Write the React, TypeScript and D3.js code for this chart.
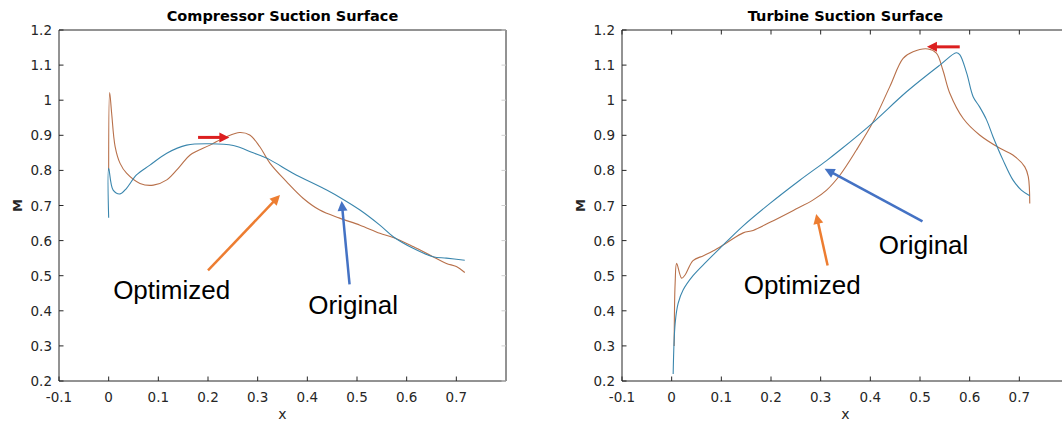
import React from "react";
import * as d3 from "d3";

// ---------- data ----------
const xTicks = [-0.1, 0, 0.1, 0.2, 0.3, 0.4, 0.5, 0.6, 0.7];
const xTickLabels = ["-0.1", "0", "0.1", "0.2", "0.3", "0.4", "0.5", "0.6", "0.7"];
const yTicks = [0.2, 0.3, 0.4, 0.5, 0.6, 0.7, 0.8, 0.9, 1.0, 1.1, 1.2];
const yTickLabels = ["0.2", "0.3", "0.4", "0.5", "0.6", "0.7", "0.8", "0.9", "1", "1.1", "1.2"];

const compOrigX = [0, 0, 0.009, 0.023, 0.036, 0.056, 0.083, 0.117, 0.157, 0.204, 0.251, 0.291, 0.325, 0.371, 0.439, 0.469, 0.506, 0.546, 0.573, 0.613, 0.653, 0.68, 0.717];
const compOrigM = [0.665, 0.806, 0.744, 0.733, 0.749, 0.787, 0.815, 0.849, 0.872, 0.876, 0.871, 0.85, 0.83, 0.792, 0.744, 0.72, 0.687, 0.644, 0.611, 0.578, 0.554, 0.55, 0.544];

const compOptX = [0, 0.002, 0.006, 0.013, 0.023, 0.036, 0.063, 0.09, 0.117, 0.143, 0.164, 0.204, 0.237, 0.264, 0.284, 0.304, 0.325, 0.358, 0.392, 0.425, 0.465, 0.506, 0.546, 0.573, 0.613, 0.653, 0.68, 0.7, 0.717];
const compOptM = [0.8, 1.022, 0.963, 0.868, 0.82, 0.792, 0.763, 0.758, 0.773, 0.811, 0.844, 0.872, 0.896, 0.908, 0.901, 0.868, 0.82, 0.768, 0.72, 0.687, 0.664, 0.644, 0.621, 0.609, 0.583, 0.554, 0.535, 0.526, 0.509];

const turbOrigX = [0.003, 0.007, 0.013, 0.023, 0.043, 0.07, 0.097, 0.144, 0.198, 0.258, 0.312, 0.339, 0.402, 0.473, 0.54, 0.573, 0.58, 0.594, 0.607, 0.62, 0.634, 0.647, 0.667, 0.687, 0.704, 0.721];
const turbOrigM = [0.22, 0.364, 0.421, 0.459, 0.5, 0.54, 0.578, 0.642, 0.706, 0.772, 0.828, 0.858, 0.932, 1.024, 1.1, 1.135, 1.13, 1.077, 1.01, 0.981, 0.944, 0.896, 0.83, 0.773, 0.744, 0.728];

const turbOptX = [0.005, 0.007, 0.01, 0.02, 0.027, 0.043, 0.064, 0.084, 0.111, 0.144, 0.164, 0.198, 0.245, 0.285, 0.312, 0.339, 0.372, 0.406, 0.439, 0.466, 0.486, 0.516, 0.533, 0.546, 0.56, 0.587, 0.62, 0.661, 0.687, 0.711, 0.718, 0.721];
const turbOptM = [0.3, 0.479, 0.535, 0.493, 0.502, 0.543, 0.557, 0.571, 0.594, 0.622, 0.629, 0.652, 0.686, 0.716, 0.744, 0.787, 0.858, 0.939, 1.038, 1.119, 1.138, 1.146, 1.134, 1.086, 1.02, 0.948, 0.901, 0.863, 0.844, 0.81, 0.782, 0.706];

// annotations (data units)
const compArrows = [
  { from: [0.18, 0.894], to: [0.243, 0.894], color: "#dc1f1f", width: 3 },
  { from: [0.2, 0.515], to: [0.345, 0.73], color: "#ed7d31", width: 2.5 },
  { from: [0.485, 0.475], to: [0.469, 0.713], color: "#4472c4", width: 2.5 },
];
const turbArrows = [
  { from: [0.58, 1.152], to: [0.514, 1.152], color: "#dc1f1f", width: 3 },
  { from: [0.505, 0.655], to: [0.308, 0.805], color: "#4472c4", width: 2.5 },
  { from: [0.314, 0.529], to: [0.291, 0.676], color: "#ed7d31", width: 2.5 },
];
const compLabels = [
  { text: "Optimized", x: 0.009, M: 0.434 },
  { text: "Original", x: 0.402, M: 0.39 },
];
const turbLabels = [
  { text: "Original", x: 0.417, M: 0.562 },
  { text: "Optimized", x: 0.145, M: 0.448 },
];

const BLUE = "#3a86ad";
const ORANGE = "#b8704a";
const AXIS = "#262626";

function zip(xs: number[], ys: number[]): [number, number][] {
  return xs.map((x, i) => [x, ys[i]]);
}

function Arrow({ x1, y1, x2, y2, color, width }: any) {
  const dx = x2 - x1, dy = y2 - y1;
  const len = Math.hypot(dx, dy);
  const ux = dx / len, uy = dy / len;
  const hl = 10, hw = 5;
  const bx = x2 - ux * hl, by = y2 - uy * hl;
  const px = -uy, py = ux;
  const pts = [
    [x2, y2],
    [bx + px * hw, by + py * hw],
    [bx - px * hw, by - py * hw],
  ].map((p) => p.join(",")).join(" ");
  return (
    <g>
      <line x1={x1} y1={y1} x2={bx + ux * 1} y2={by + uy * 1} stroke={color} strokeWidth={width} />
      <polygon points={pts} fill={color} />
    </g>
  );
}

function Panel({ x0, title, orig, opt, arrows, labels, showRight, showTopTicks }: any) {
  const width = 447;
  const x = d3.scaleLinear().domain([-0.1, 0.8]).range([x0, x0 + width]);
  const y = d3.scaleLinear().domain([0.2, 1.2]).range([381, 30]);
  const line = d3
    .line<[number, number]>()
    .x((d) => x(d[0]))
    .y((d) => y(d[1]))
    .curve(d3.curveCatmullRom.alpha(0.5));
  const top = y(1.2), bot = y(0.2), left = x(-0.1), right = x(0.8);
  const tk = 4.5;
  const font = "'DejaVu Sans', sans-serif";
  return (
    <g>
      <path d={line(opt) || ""} fill="none" stroke={ORANGE} strokeWidth={1.1} />
      <path d={line(orig) || ""} fill="none" stroke={BLUE} strokeWidth={1.1} />
      <line x1={left} y1={bot} x2={right} y2={bot} stroke={AXIS} strokeWidth={1} />
      <line x1={left} y1={top} x2={right} y2={top} stroke={AXIS} strokeWidth={1} />
      <line x1={left} y1={top} x2={left} y2={bot} stroke={AXIS} strokeWidth={1} />
      {showRight && <line x1={right} y1={top} x2={right} y2={bot} stroke={AXIS} strokeWidth={1} />}
      {xTicks.map((t, i) => (
        <g key={"xt" + i}>
          <line x1={x(t)} x2={x(t)} y1={bot} y2={bot - tk} stroke={AXIS} />
          {showTopTicks && <line x1={x(t)} x2={x(t)} y1={top} y2={top + tk} stroke={AXIS} />}
          <text x={x(t)} y={bot + 21} textAnchor="middle" fontFamily={font} fontSize={13.5} fill={AXIS}>
            {xTickLabels[i]}
          </text>
        </g>
      ))}
      {yTicks.map((t, i) => (
        <g key={"yt" + i}>
          <line x1={left} x2={left + tk} y1={y(t)} y2={y(t)} stroke={AXIS} />
          {showRight && <line x1={right} x2={right - tk} y1={y(t)} y2={y(t)} stroke="#cfcfcf" />}
          <text x={left - 7} y={y(t) + 5} textAnchor="end" fontFamily={font} fontSize={13.5} fill={AXIS}>
            {yTickLabels[i]}
          </text>
        </g>
      ))}
      <text x={(left + right) / 2} y={21} textAnchor="middle" fontFamily={font} fontWeight="bold" fontSize={14.5} fill="#000">
        {title}
      </text>
      <text x={(left + right) / 2} y={419} textAnchor="middle" fontFamily={font} fontSize={14} fill={AXIS}>
        x
      </text>
      <text
        transform={`translate(${left - 37},${(top + bot) / 2}) rotate(-90)`}
        textAnchor="middle"
        fontFamily={font}
        fontWeight="bold"
        fontSize={13}
        fill={AXIS}
      >
        M
      </text>
      {arrows.map((a: any, i: number) => (
        <Arrow key={"a" + i} x1={x(a.from[0])} y1={y(a.from[1])} x2={x(a.to[0])} y2={y(a.to[1])} color={a.color} width={a.width} />
      ))}
      {labels.map((l: any, i: number) => (
        <text key={"l" + i} x={x(l.x)} y={y(l.M)} fontFamily="'Liberation Sans', Arial, sans-serif" fontSize={26} fill="#000">
          {l.text}
        </text>
      ))}
    </g>
  );
}

export default function App() {
  return (
    <div style={{ position: "absolute", left: 0, top: 0 }}>
      <svg width={1062} height={422} style={{ display: "block", background: "#fff" }}>
        <Panel
          x0={59}
          title="Compressor Suction Surface"
          orig={zip(compOrigX, compOrigM)}
          opt={zip(compOptX, compOptM)}
          arrows={compArrows}
          labels={compLabels}
          showRight={true}
          showTopTicks={false}
        />
        <Panel
          x0={622}
          title="Turbine Suction Surface"
          orig={zip(turbOrigX, turbOrigM)}
          opt={zip(turbOptX, turbOptM)}
          arrows={turbArrows}
          labels={turbLabels}
          showRight={false}
          showTopTicks={true}
        />
      </svg>
    </div>
  );
}
